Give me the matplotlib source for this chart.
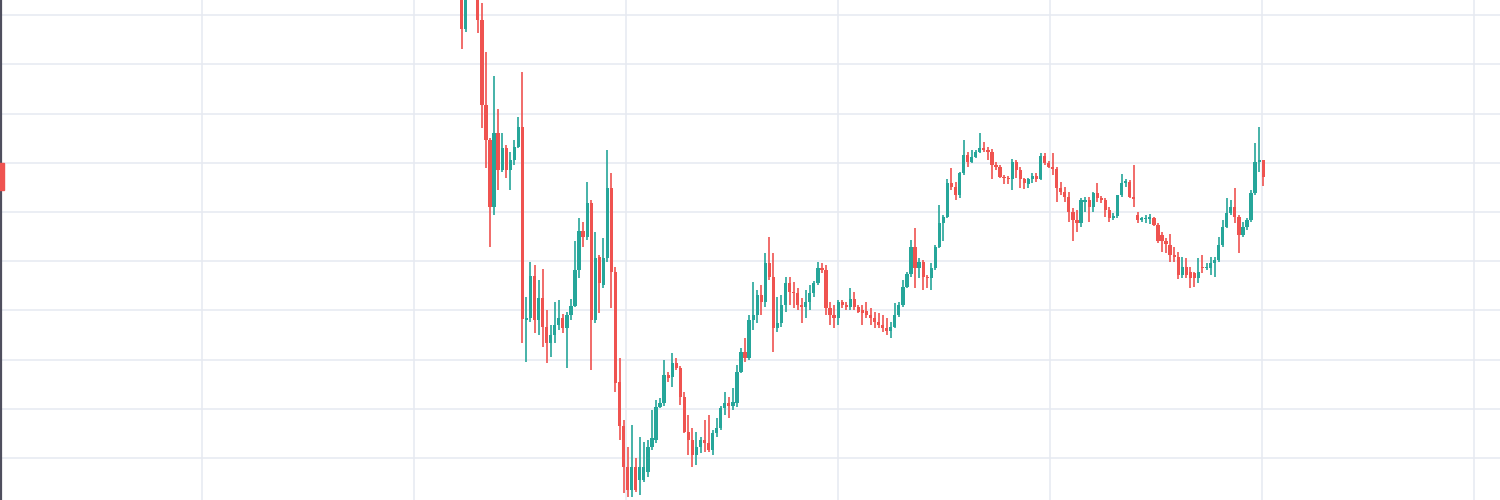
import numpy as np
import matplotlib
matplotlib.use("Agg")
import matplotlib.pyplot as plt
from matplotlib.ticker import MultipleLocator
from matplotlib.patches import Rectangle

# daily candles (first few run above the visible area)
opens = [1496, 1436, 1486, 1511, 1481, 1445, 1359, 1323, 1255, 1330,
         1293, 1315, 1293, 1303, 1316, 1336, 1140, 1142, 1185, 1140,
         1163, 1133, 1117, 1125, 1135, 1142, 1132, 1145, 1154, 1191,
         1231, 1225, 1259, 1140, 1204, 1176, 1203, 1274, 1189, 1077,
         1032, 991, 967, 991, 978, 978, 986, 1011, 1018, 1052,
         1056, 1084, 1082, 1097, 1091, 1062, 1026, 1018, 1003, 1011,
         1018, 1015, 1008, 1025, 1030, 1051, 1056, 1053, 1056, 1087,
         1108, 1102, 1140, 1145, 1166, 1158, 1198, 1184, 1132, 1137,
         1155, 1178, 1169, 1168, 1155, 1153, 1158, 1168, 1178, 1193,
         1191, 1152, 1145, 1142, 1158, 1155, 1153, 1162, 1153, 1150,
         1149, 1145, 1142, 1138, 1135, 1132, 1129, 1133, 1145, 1155,
         1174, 1187, 1214, 1193, 1199, 1184, 1183, 1193, 1214, 1239,
         1245, 1279, 1275, 1267, 1290, 1308, 1301, 1306, 1311, 1315,
         1313, 1311, 1298, 1296, 1286, 1285, 1283, 1301, 1293, 1283,
         1278, 1283, 1287, 1284, 1307, 1300, 1296, 1294, 1274, 1270,
         1265, 1250, 1242, 1239, 1260, 1262, 1255, 1269, 1264, 1262,
         1252, 1244, 1246, 1267, 1279, 1280, 1265, 1247, 1242, 1243,
         1243, 1244, 1237, 1227, 1220, 1216, 1206, 1204, 1186, 1194,
         1189, 1188, 1183, 1194, 1193, 1193, 1198, 1201, 1216, 1235,
         1249, 1255, 1245, 1227, 1235, 1242, 1269, 1301, 1303]

highs = [1506, 1501, 1526, 1521, 1491, 1462, 1413, 1325, 1388, 1355,
         1330, 1318, 1311, 1323, 1347, 1392, 1164, 1199, 1196, 1181,
         1192, 1150, 1135, 1159, 1161, 1146, 1148, 1162, 1220, 1244,
         1240, 1280, 1262, 1230, 1206, 1224, 1313, 1290, 1194, 1102,
         1039, 1011, 1034, 1000, 1021, 1016, 1018, 1049, 1059, 1061,
         1100, 1087, 1107, 1102, 1093, 1067, 1044, 1030, 1026, 1021,
         1039, 1044, 1028, 1041, 1053, 1067, 1062, 1071, 1094, 1112,
         1122, 1145, 1179, 1171, 1176, 1208, 1225, 1208, 1164, 1166,
         1184, 1184, 1179, 1173, 1163, 1171, 1176, 1180, 1199, 1198,
         1196, 1158, 1155, 1161, 1161, 1158, 1173, 1169, 1155, 1155,
         1158, 1152, 1148, 1147, 1145, 1142, 1138, 1157, 1158, 1181,
         1189, 1222, 1234, 1203, 1201, 1186, 1198, 1216, 1257, 1247,
         1284, 1295, 1280, 1291, 1323, 1311, 1313, 1313, 1330, 1321,
         1316, 1314, 1301, 1298, 1288, 1287, 1304, 1303, 1296, 1285,
         1285, 1290, 1290, 1310, 1310, 1302, 1310, 1296, 1280, 1275,
         1270, 1254, 1252, 1264, 1265, 1265, 1270, 1279, 1266, 1264,
         1255, 1249, 1267, 1289, 1284, 1282, 1298, 1250, 1245, 1247,
         1248, 1245, 1239, 1230, 1224, 1228, 1214, 1209, 1204, 1203,
         1194, 1189, 1203, 1206, 1198, 1204, 1204, 1225, 1242, 1264,
         1262, 1274, 1247, 1240, 1244, 1272, 1320, 1336, 1303]

lows = [1416, 1433, 1476, 1471, 1432, 1335, 1295, 1214, 1247, 1272,
        1291, 1285, 1272, 1298, 1315, 1117, 1098, 1138, 1127, 1125,
        1113, 1097, 1103, 1117, 1130, 1127, 1091, 1140, 1153, 1183,
        1214, 1222, 1089, 1137, 1147, 1173, 1199, 1152, 1067, 1018,
        964, 960, 960, 965, 962, 976, 981, 1008, 1015, 1051,
        1053, 1077, 1072, 1089, 1054, 1025, 1003, 991, 993, 1005,
        1006, 1006, 1003, 1021, 1028, 1044, 1041, 1049, 1052, 1086,
        1098, 1100, 1130, 1137, 1145, 1153, 1181, 1108, 1128, 1133,
        1148, 1155, 1152, 1150, 1137, 1142, 1150, 1164, 1176, 1188,
        1145, 1135, 1132, 1135, 1152, 1150, 1150, 1150, 1147, 1135,
        1142, 1135, 1132, 1132, 1128, 1125, 1122, 1132, 1143, 1153,
        1173, 1184, 1173, 1183, 1171, 1173, 1171, 1191, 1213, 1220,
        1244, 1272, 1262, 1264, 1288, 1296, 1300, 1305, 1310, 1311,
        1303, 1283, 1293, 1285, 1278, 1278, 1272, 1285, 1274, 1273,
        1274, 1279, 1280, 1282, 1298, 1295, 1288, 1260, 1267, 1260,
        1240, 1220, 1230, 1235, 1250, 1240, 1250, 1260, 1259, 1245,
        1240, 1242, 1244, 1265, 1275, 1264, 1255, 1239, 1240, 1239,
        1238, 1236, 1218, 1209, 1208, 1199, 1199, 1182, 1183, 1183,
        1173, 1174, 1178, 1188, 1191, 1186, 1184, 1199, 1214, 1234,
        1247, 1239, 1208, 1225, 1232, 1240, 1267, 1291, 1276]

closes = [1436, 1486, 1511, 1481, 1445, 1359, 1323, 1255, 1330, 1293,
          1315, 1293, 1303, 1316, 1336, 1141, 1142, 1185, 1140, 1163,
          1133, 1117, 1125, 1135, 1142, 1132, 1145, 1154, 1191, 1231,
          1225, 1259, 1140, 1203, 1178, 1203, 1274, 1189, 1076, 1032,
          991, 967, 991, 967, 991, 991, 1011, 1020, 1052, 1056,
          1084, 1081, 1097, 1091, 1062, 1026, 1018, 1003, 1011, 1018,
          1015, 1008, 1025, 1030, 1051, 1056, 1053, 1057, 1087, 1108,
          1102, 1140, 1145, 1166, 1158, 1198, 1184, 1132, 1137, 1155,
          1178, 1169, 1168, 1155, 1153, 1158, 1168, 1178, 1193, 1191,
          1152, 1145, 1142, 1158, 1155, 1153, 1162, 1153, 1148, 1147,
          1145, 1142, 1138, 1135, 1132, 1129, 1133, 1145, 1155, 1174,
          1187, 1214, 1193, 1199, 1184, 1183, 1193, 1214, 1239, 1245,
          1279, 1275, 1267, 1290, 1308, 1301, 1306, 1311, 1315, 1313,
          1311, 1298, 1296, 1286, 1285, 1283, 1301, 1293, 1283, 1279,
          1283, 1287, 1284, 1307, 1300, 1296, 1294, 1274, 1270, 1265,
          1250, 1242, 1239, 1262, 1262, 1255, 1269, 1264, 1262, 1252,
          1244, 1246, 1267, 1279, 1281, 1265, 1263, 1242, 1244, 1244,
          1245, 1237, 1220, 1220, 1217, 1206, 1204, 1186, 1194, 1186,
          1183, 1183, 1189, 1193, 1194, 1198, 1201, 1216, 1235, 1249,
          1255, 1245, 1227, 1235, 1242, 1269, 1301, 1303, 1286]

UP = "#26a69a"
DOWN = "#ef5350"
GRID = "#e6eaf1"

o = np.array(opens, float)
h = np.array(highs, float)
l = np.array(lows, float)
c = np.array(closes, float)
x = np.arange(len(o))
colors = np.where(c >= o, UP, DOWN)

fig = plt.figure(figsize=(15, 5), dpi=100)
ax = fig.add_axes([1 / 1500, 0, 1 - 1 / 1500, 1])

ax.vlines(x, l, h, colors=colors, linewidth=1.2, zorder=2)
body = np.maximum(np.abs(c - o), 0.9)
ax.bar(x, body, bottom=np.minimum(o, c), width=0.8, color=colors,
       linewidth=0, zorder=3)

ax.set_xlim(-113.8, 256.5)
ax.set_ylim(957.3, 1465.4)

# grid
ax.set_xticks([-64.2, -11.8, 40.6, 93.0, 145.4, 197.8, 250.2])
ax.yaxis.set_major_locator(MultipleLocator(50))
ax.grid(True, color=GRID, linewidth=1.1, zorder=0)
ax.set_axisbelow(True)

for s in ["top", "right", "bottom"]:
    ax.spines[s].set_visible(False)
ax.spines["left"].set_color("#4f4f5e")
ax.spines["left"].set_linewidth(1.6)
ax.tick_params(axis="x", length=0, labelbottom=False)
ax.tick_params(axis="y", direction="out", length=3, width=1,
               color="#4f4f5e", labelleft=False)

# last price tag peeking from the y axis
ax.add_patch(Rectangle((-0.02, c[-1] - 13.5), 0.022, 27,
                       transform=ax.get_yaxis_transform(),
                       color=DOWN, clip_on=False, zorder=5))

fig.savefig("out.png", dpi=100)
